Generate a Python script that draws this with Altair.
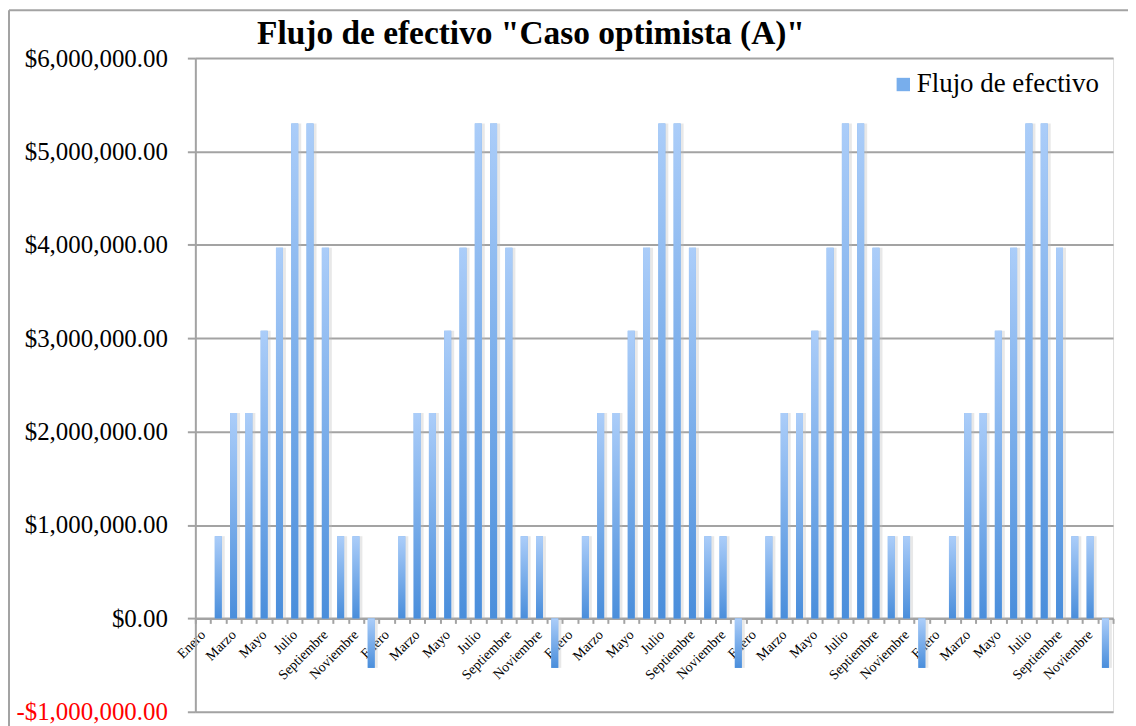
import altair as alt
import pandas as pd

months = ["Enero", "Febrero", "Marzo", "Abril", "Mayo", "Junio", "Julio",
          "Agosto", "Septiembre", "Octubre", "Noviembre", "Diciembre"]
year1 = [0, 880000, 2200000, 2200000, 3080000, 3970000, 5300000, 5300000, 3970000, 880000, 880000, -530000]
year2 = [0, 880000, 2200000, 2200000, 3080000, 3970000, 5300000, 5300000, 3970000, 880000, 880000, -530000]
year3 = [0, 880000, 2200000, 2200000, 3080000, 3970000, 5300000, 5300000, 3970000, 880000, 880000, -530000]
year4 = [0, 880000, 2200000, 2200000, 3080000, 3970000, 5300000, 5300000, 3970000, 880000, 880000, -530000]
year5 = [0, 880000, 2200000, 2200000, 3080000, 3970000, 5300000, 5300000, 3970000, 880000, 880000, -530000]
y_ticks = [-1000000, 0, 1000000, 2000000, 3000000, 4000000, 5000000, 6000000]
series_name = "Flujo de efectivo"
title_text = 'Flujo de efectivo "Caso optimista (A)"'

rows = []
for yi, yr in enumerate([year1, year2, year3, year4, year5]):
    for mi, v in enumerate(yr):
        rows.append({"i": yi * 12 + mi, "mes": months[mi], "valor": v, "serie": series_name})
df = pd.DataFrame(rows)

W, H = 921, 656
zero_offset = -H / 7.0
GRAY = "#a3a3a3"
SERIF = "Liberation Serif"

month_js = "[" + ",".join("'" + m + "'" for m in months) + "]"

x_enc = alt.X(
    "i:O",
    scale=alt.Scale(paddingInner=0, paddingOuter=0),
    axis=alt.Axis(
        title=None,
        labelExpr=f"datum.value % 2 == 0 ? {month_js}[datum.value % 12] : ''",
        labelAngle=-45,
        labelAlign="right",
        labelBaseline="middle",
        labelPadding=9,
        labelFont=SERIF,
        labelFontSize=14,
        labelColor="black",
        labelOverlap=False,
        labelBound=False,
        labelFlush=False,
        tickBand="extent",
        tickSize=5,
        tickColor=GRAY,
        tickWidth=2,
        domainColor=GRAY,
        domainWidth=2,
        offset=zero_offset,
        grid=False,
    ),
)
y_enc = alt.Y(
    "valor:Q",
    scale=alt.Scale(domain=[-1000000, 6000000], nice=False, zero=False),
    axis=alt.Axis(
        title=None,
        values=y_ticks,
        labelExpr="datum.value < 0 ? '-' + format(-datum.value, '$,.2f') : format(datum.value, '$,.2f')",
        labelColor={"condition": {"test": "datum.value < 0", "value": "#ff0000"}, "value": "black"},
        labelFont=SERIF,
        labelFontSize=25,
        labelPadding=20,
        tickSize=8,
        tickColor=GRAY,
        tickWidth=2,
        domainColor=GRAY,
        domainWidth=2,
        grid=True,
        gridColor=GRAY,
        gridWidth=2,
    ),
)

base = alt.Chart(df).encode(x=x_enc, y=y_enc)

shadow = base.mark_bar(width=7, color="#bdbdbd", opacity=0.35, xOffset=3)

legend_bars = base.mark_bar(width=7).encode(
    color=alt.Color(
        "serie:N",
        scale=alt.Scale(range=["#78aeec"]),
        legend=alt.Legend(
            title=None,
            orient="none",
            legendX=697,
            legendY=13,
            symbolType="square",
            symbolSize=180,
            symbolStrokeWidth=0,
            labelFont=SERIF,
            labelFontSize=27,
            labelColor="black",
            labelOffset=0,
            labelLimit=500,
        ),
    )
)

grad = alt.LinearGradient(
    gradient="linear",
    stops=[alt.GradientStop(offset=0, color="#abcdf9"),
           alt.GradientStop(offset=1, color="#4a8edb")],
    x1=0, x2=0, y1=0, y2=1,
)
bars = base.mark_bar(width=7, fill=grad)

frame_df = pd.DataFrame({"a": [0]})
frame_top = alt.Chart(frame_df).mark_rule(color=GRAY, strokeWidth=2).encode(
    x=alt.value(-187), x2=alt.value(1200), y=alt.value(-48))
frame_left = alt.Chart(frame_df).mark_rule(color=GRAY, strokeWidth=2).encode(
    x=alt.value(-187), y=alt.value(-48), y2=alt.value(900))

chart = alt.layer(shadow, legend_bars, bars, frame_top, frame_left).properties(
    width=W,
    height=H,
    autosize=alt.AutoSizeParams(type="none"),
    padding={"left": 188, "top": 49, "right": 15, "bottom": 13},
    title=alt.TitleParams(
        text=title_text,
        font=SERIF,
        fontSize=33.5,
        fontWeight="bold",
        color="black",
        anchor="start",
        frame="group",
        baseline="alphabetic",
        dx=62,
        offset=-68,
    ),
).configure_view(stroke=None).configure(background="white")

chart.save("out.html", embed_options={"renderer": "svg", "actions": False})
